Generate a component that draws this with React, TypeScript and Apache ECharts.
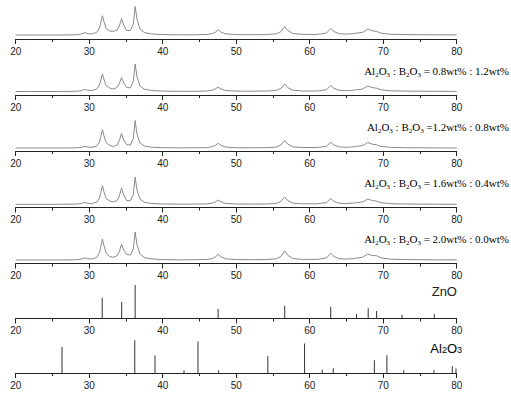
import React, { useEffect, useRef } from "react";
import * as echarts from "echarts";

const twoTheta = [20, 22, 24, 26, 28, 28.5, 29, 29.4, 29.8, 30.3, 31.0, 31.4, 31.6, 31.8, 32.0, 32.3, 32.8, 33.3, 33.8, 34.1, 34.4, 34.7, 35.1, 35.6, 36.0, 36.25, 36.5, 36.9, 37.5, 38.5, 40, 42, 44, 46, 46.8, 47.2, 47.55, 47.9, 48.5, 50, 52, 54, 55.5, 56.1, 56.6, 57.0, 57.7, 59, 61, 62.3, 62.85, 63.3, 64, 65, 66.0, 66.4, 67.2, 67.9, 68.5, 69.1, 69.7, 71, 73, 75, 77, 80];

const sampleTop = [4.0, 4.0, 4.0, 4.0, 4.2, 4.4, 5.2, 6.4, 5.4, 5.0, 6.5, 11, 17, 23.3, 17.5, 10.5, 8, 7.6, 9, 13, 20.3, 14, 8.5, 8.5, 15, 32.6, 20, 10, 6.5, 5, 4.4, 4.2, 4.2, 4.5, 5.5, 7, 9.3, 7, 5.2, 4.4, 4.3, 4.4, 5.2, 7.5, 12.6, 8.5, 5.5, 4.6, 4.6, 6, 10.6, 7.5, 5.3, 4.9, 5.4, 5.9, 6.6, 10, 8.2, 7.5, 5.8, 4.7, 4.4, 4.3, 4.2, 4.1];
const sample08 = [3.5, 3.5, 3.5, 3.5, 3.7, 3.9, 4.5, 5.5, 4.8, 4.4, 5.8, 10, 15.5, 21, 16, 9.5, 7, 6, 7.5, 11.5, 17.5, 12, 7.5, 7.2, 13.5, 31, 18.5, 9, 5.8, 4.5, 3.9, 3.7, 3.7, 4, 5, 6.2, 8, 6.2, 4.6, 3.9, 3.8, 3.9, 4.6, 6.8, 11, 7.5, 4.8, 4, 4, 5.3, 9.5, 6.6, 4.7, 4.3, 4.8, 5.3, 6, 9, 7.4, 6.8, 5.2, 4.2, 3.9, 3.8, 3.7, 3.6];
const sample12 = [3, 3, 3, 3, 3.1, 3.3, 3.8, 4.6, 4, 3.6, 4.8, 9, 15, 21.5, 15.5, 8.5, 5.5, 4.5, 6, 10.5, 17.5, 11, 6.3, 6, 12.5, 30.5, 17, 8, 5, 3.8, 3.3, 3.2, 3.2, 3.4, 4.4, 5.8, 7.7, 5.8, 4, 3.3, 3.2, 3.3, 4, 6.2, 10.5, 7, 4.2, 3.5, 3.5, 4.7, 9, 6, 4.1, 3.7, 4.2, 4.7, 5.4, 8.5, 6.8, 6.2, 4.6, 3.6, 3.3, 3.2, 3.1, 3];
const sample16 = [3.2, 3.2, 3.2, 3.2, 3.4, 3.6, 4.2, 5, 4.3, 3.9, 5.2, 9.5, 15.5, 22, 16, 9.2, 6.5, 5.5, 7, 11.5, 19.5, 12.5, 7, 6.8, 13, 30.5, 17.5, 8.5, 5.3, 4, 3.5, 3.4, 3.4, 3.6, 4.5, 5.8, 7.5, 5.8, 4.1, 3.5, 3.4, 3.5, 4.2, 6.3, 10.5, 7, 4.4, 3.7, 3.7, 4.9, 9, 6.1, 4.3, 3.9, 4.4, 4.9, 5.6, 8.5, 7, 6.4, 4.8, 3.8, 3.5, 3.4, 3.3, 3.2];
const sample20 = [3.5, 3.5, 3.5, 3.5, 3.7, 3.9, 4.6, 5.6, 4.8, 4.4, 6, 11, 17.5, 24.5, 18, 10.5, 7, 6.2, 7.8, 12, 19.2, 13.5, 9, 8.5, 14.5, 31.5, 19, 9.5, 6, 4.6, 3.9, 3.7, 3.7, 4, 5, 6.7, 9.2, 6.8, 4.7, 3.9, 3.8, 3.9, 4.7, 7.2, 12.5, 8.3, 5, 4.1, 4.1, 5.6, 10.2, 7.1, 4.8, 4.4, 4.9, 5.5, 6.3, 9.5, 8, 7.8, 5.6, 4.3, 3.9, 3.8, 3.7, 3.6];

const znoPos = [31.77, 34.42, 36.25, 47.54, 56.6, 62.86, 66.38, 67.96, 69.1, 72.56, 76.95];
const znoInt = [20.8, 16.5, 33.5, 9.5, 12.8, 11.8, 4.5, 10.2, 7.5, 3.8, 4.5];
const aloPos = [26.3, 36.2, 38.95, 42.9, 44.8, 47.6, 54.3, 59.3, 61.7, 63.2, 68.8, 70.5, 72.8, 76.9, 79.4, 79.9];
const aloInt = [26, 32.7, 17.4, 2.7, 31.4, 2.7, 16.7, 29.4, 3.4, 4.7, 12.7, 17.7, 2.7, 2.7, 6.7, 4.4];

const ratioLabels = [
  ["0.8wt% : 1.2wt%", " = "],
  ["1.2wt% : 0.8wt%", " ="],
  ["1.6wt% : 0.4wt%", " = "],
  ["2.0wt% : 0.0wt%", " = "],
];

const axisYs = [39, 95, 151, 207.5, 263.5, 318.5, 373];
const H = 36;

export default function App() {
  const ref = useRef<HTMLDivElement>(null);
  useEffect(() => {
    if (!ref.current) return;
    const chart = echarts.init(ref.current, undefined, { renderer: "svg" });
    const grids = axisYs.map((y) => ({ left: 15.7, width: 441, top: y - H, height: H }));
    const xAxes = axisYs.map((_, i) => ({
      type: "value",
      gridIndex: i,
      min: 20,
      max: 80,
      interval: 10,
      axisLine: { show: true, onZero: false, lineStyle: { color: "#222", width: 1 } },
      axisTick: { show: true, length: 5, lineStyle: { color: "#222" } },
      minorTick: { show: true, splitNumber: 2, length: 3, lineStyle: { color: "#222" } },
      splitLine: { show: false },
      minorSplitLine: { show: false },
      axisLabel: { fontSize: 10, color: "#222", margin: 7, fontFamily: "Liberation Sans, Arial, sans-serif" },
    }));
    const yAxes = axisYs.map((_, i) => ({
      type: "value",
      gridIndex: i,
      min: 0,
      max: H,
      show: false,
    }));
    const curves = [sampleTop, sample08, sample12, sample16, sample20];
    const series: any[] = curves.map((arr, i) => ({
      type: "line",
      xAxisIndex: i,
      yAxisIndex: i,
      data: twoTheta.map((x, k) => [x, arr[k]]),
      showSymbol: false,
      lineStyle: { color: "#8a8a8a", width: 1 },
    }));
    series.push({
      type: "bar",
      xAxisIndex: 5,
      yAxisIndex: 5,
      barWidth: 1,
      itemStyle: { color: "#333" },
      data: znoPos.map((x, k) => [x, znoInt[k]]),
    });
    series.push({
      type: "bar",
      xAxisIndex: 6,
      yAxisIndex: 6,
      barWidth: 1,
      itemStyle: { color: "#333" },
      data: aloPos.map((x, k) => [x, aloInt[k]]),
    });
    const serif = "Liberation Serif, Times New Roman, serif";
    const rich = {
      n: { fontSize: 11, fontFamily: serif, color: "#111", lineHeight: 14, verticalAlign: "bottom" },
      s: { fontSize: 7, fontFamily: serif, color: "#111", lineHeight: 10, verticalAlign: "bottom", padding: [0, 0, -2, 0] },
    };
    const graphics: any[] = ratioLabels.map(([r, eq], i) => ({
      type: "text",
      x: 509,
      y: axisYs[i] + 30,
      style: {
        text: `{n|Al}{s|2}{n|O}{s|3}{n| : B}{s|2}{n|O}{s|3}{n|${eq}${r}}`,
        align: "right",
        verticalAlign: "middle",
        rich,
      },
    }));
    const sans = "Liberation Sans, Arial, sans-serif";
    graphics.push({
      type: "text",
      x: 457,
      y: 291.5,
      style: { text: "ZnO", align: "right", verticalAlign: "middle", fontSize: 13, fontFamily: sans, fill: "#222" },
    });
    graphics.push({
      type: "text",
      x: 462,
      y: 346.5,
      style: {
        text: "{a|Al}{b|2}{a|O}{b|3}",
        align: "right",
        verticalAlign: "middle",
        rich: {
          a: { fontSize: 13, fontFamily: sans, color: "#222", lineHeight: 16, verticalAlign: "bottom" },
          b: { fontSize: 9, fontFamily: sans, color: "#222", lineHeight: 12, verticalAlign: "bottom" },
        },
      },
    });
    chart.setOption({
      animation: false,
      backgroundColor: "#fff",
      grid: grids,
      xAxis: xAxes,
      yAxis: yAxes,
      series,
      graphic: graphics,
    });
    return () => chart.dispose();
  }, []);
  return <div ref={ref} style={{ position: "fixed", left: 0, top: 0, width: 511, height: 393 }} />;
}
